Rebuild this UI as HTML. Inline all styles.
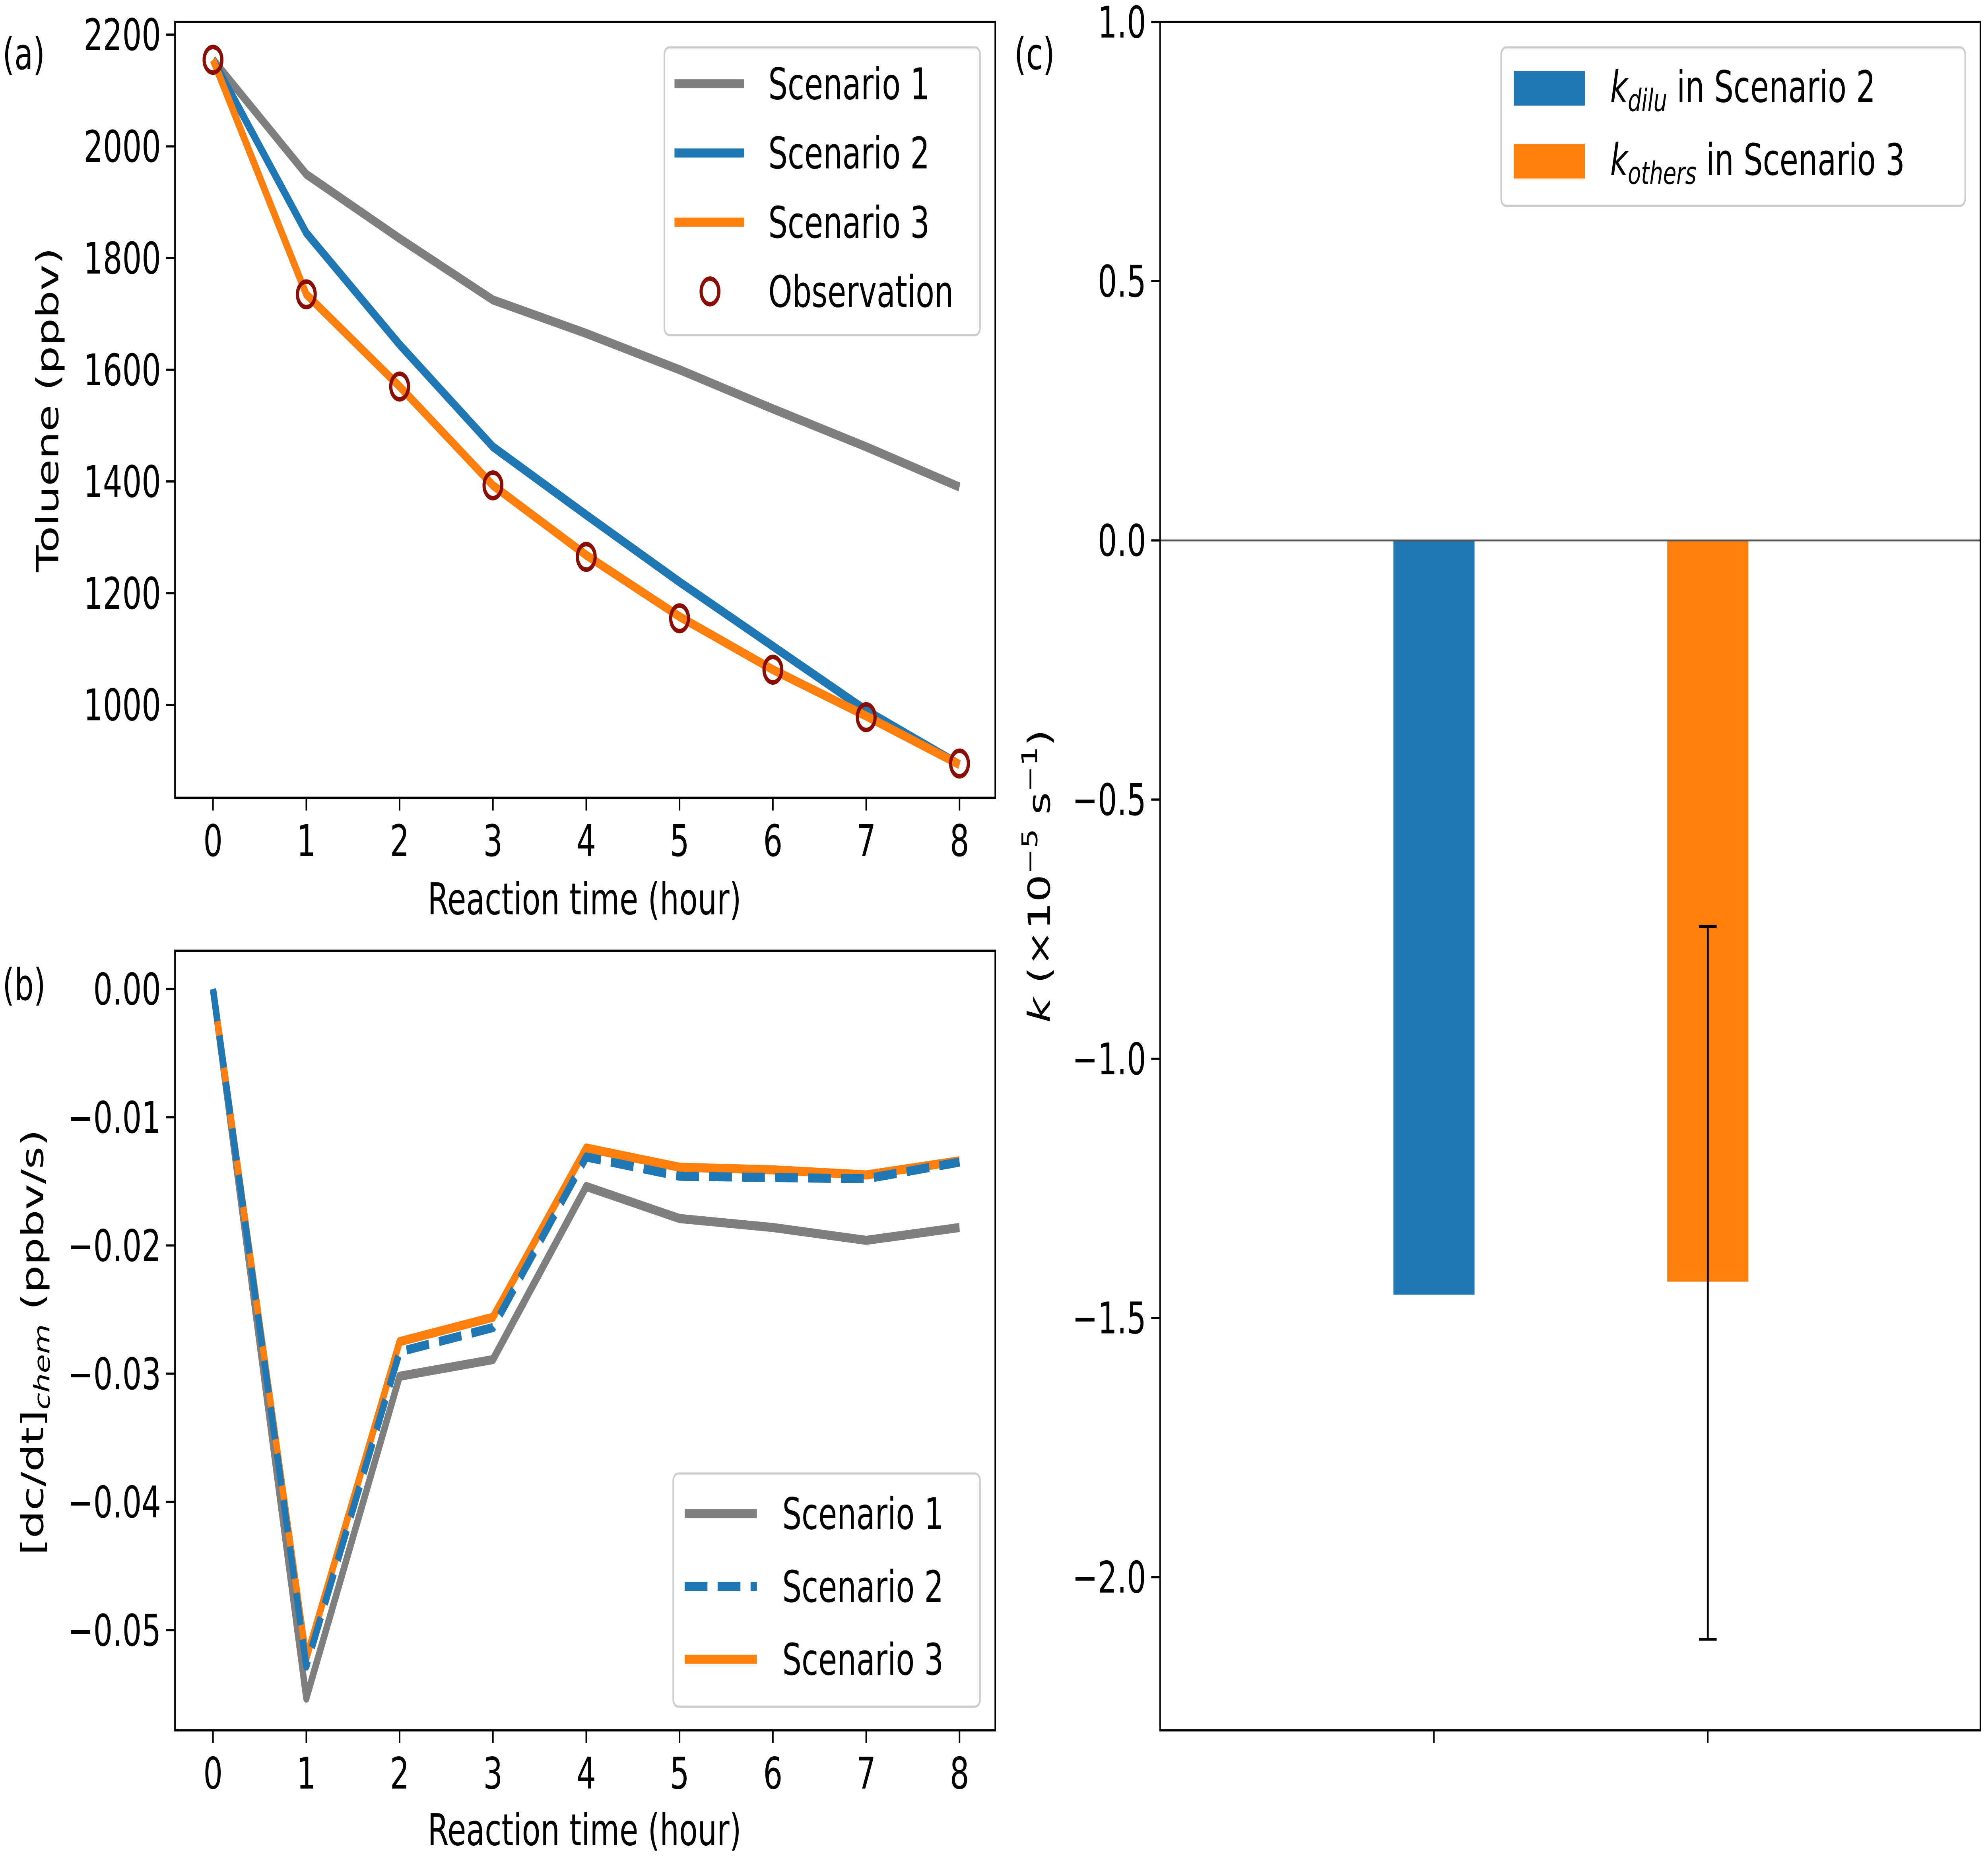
<!DOCTYPE html>
<html><head><meta charset="utf-8"><style>
html,body{margin:0;padding:0;background:#fff;overflow:hidden;width:100%;height:100%;}
svg{display:block;position:absolute;left:0;top:0;width:100vw;height:100vh;}
text{font-family:"DejaVu Sans","Liberation Sans",sans-serif;fill:#000;}
</style></head><body>
<svg id="fig" viewBox="0 0 1568 1021.2" preserveAspectRatio="none" xmlns="http://www.w3.org/2000/svg">
<rect x="0" y="0" width="1568" height="1021.2" fill="#fff"/>
<g id="pa"></g>
<g id="pb"></g>
<g id="pc"></g>
</svg>
<script>
const hours=[0,1,2,3,4,5,6,7,8];
const tolS1=[2155,1950,1835,1725,1665,1600,1530,1462,1390];
const tolS2=[2155,1845,1645,1462,1340,1220,1105,990,893];
const tolS3=[2155,1735,1570,1393,1268,1158,1063,980,893];
const tolObs=[2155,1735,1570,1393,1265,1155,1063,978,895];
const tolTicks=[1000,1200,1400,1600,1800,2000,2200];
const rateS1=[0,-0.0553,-0.0302,-0.0289,-0.0154,-0.0179,-0.0186,-0.0196,-0.0186];
const rateS2=[0,-0.0528,-0.0283,-0.0264,-0.0131,-0.0146,-0.0147,-0.0148,-0.0135];
const rateS3=[0,-0.0522,-0.0275,-0.0256,-0.0124,-0.0139,-0.0141,-0.0145,-0.0134];
const rateTicks=[0,-0.01,-0.02,-0.03,-0.04,-0.05];
const rateTickLabels=["0.00","\u22120.01","\u22120.02","\u22120.03","\u22120.04","\u22120.05"];
const kCats=["kdilu","kothers"];
const kVals=[-1.455,-1.43];
const kErrLow=[null,-2.12];
const kErrHigh=[null,-0.745];
const kTicks=[1.0,0.5,0.0,-0.5,-1.0,-1.5,-2.0];
const kTickLabels=["1.0","0.5","0.0","\u22120.5","\u22121.0","\u22121.5","\u22122.0"];

const NS="http://www.w3.org/2000/svg";
function mk(p,tag,at,txt){const e=document.createElementNS(NS,tag);for(const k in at)e.setAttribute(k,at[k]);if(txt!==undefined)e.textContent=txt;p.appendChild(e);return e;}
const GRAY="#7f7f7f",BLUE="#1f77b4",ORANGE="#ff7f0e",RED="#8b0e04";

const pa=document.getElementById('pa');
const ax=h=>168+h*73.6;
const ay=v=>387-(v-1000)*(61.33/200);
function line(g,xs,ys,fx,fy,col,w,dash,name){
  const p=mk(g,'polyline',{points:xs.map((x,i)=>fx(x)+','+fy(ys[i])).join(' '),fill:'none',stroke:col,'stroke-width':w,'stroke-linejoin':'round','stroke-dasharray':dash||'none'});
  
  
}
line(pa,hours,tolS1,ax,ay,GRAY,5,null,'tol-scenario1-line');
line(pa,hours,tolS2,ax,ay,BLUE,5,null,'tol-scenario2-line');
line(pa,hours,tolS3,ax,ay,ORANGE,5,null,'tol-scenario3-line');
hours.forEach((h,i)=>{const c=mk(pa,'circle',{cx:ax(h),cy:ay(tolObs[i]),r:7,fill:'none',stroke:RED,'stroke-width':2.5});

});
mk(pa,'rect',{x:138,y:12,width:647,height:426,fill:'none',stroke:'#000','stroke-width':1.2});
hours.forEach(h=>{mk(pa,'line',{x1:ax(h),x2:ax(h),y1:438,y2:445,stroke:'#000','stroke-width':1.2});
const t=mk(pa,'text',{x:ax(h),y:470,'font-size':24,'text-anchor':'middle'},String(h));

});
tolTicks.forEach(v=>{mk(pa,'line',{x1:131,x2:138,y1:ay(v),y2:ay(v),stroke:'#000','stroke-width':1.2});
const t=mk(pa,'text',{x:127,y:ay(v)+8.5,'font-size':24,'text-anchor':'end'},String(v));

});
let t=mk(pa,'text',{x:461,y:502,'font-size':24,'text-anchor':'middle'},'Reaction time (hour)');

t=mk(pa,'text',{x:46,y:225,'font-size':24,'text-anchor':'middle',transform:'rotate(-90 46 225)'},'Toluene (ppbv)');

t=mk(pa,'text',{x:2,y:38,'font-size':24},'(a)');

let lg=mk(pa,'g',{});
mk(lg,'rect',{x:524,y:26,width:249,height:158,rx:4,fill:'#fff',stroke:'#ccc','stroke-width':1.2});
[[GRAY,'Scenario 1'],[BLUE,'Scenario 2'],[ORANGE,'Scenario 3']].forEach((d,i)=>{const y=46+i*38;
mk(lg,'line',{x1:532,x2:587,y1:y,y2:y,stroke:d[0],'stroke-width':5});
const e=mk(lg,'text',{x:606,y:y+8.5,'font-size':24},d[1]);});
mk(lg,'circle',{cx:560,cy:160,r:7,fill:'none',stroke:RED,'stroke-width':2.5});
t=mk(lg,'text',{x:606,y:168.5,'font-size':24},'Observation');

const pb=document.getElementById('pb');
const by=v=>543-v*7040;
line(pb,hours,rateS1,ax,by,GRAY,5,null,'rate-scenario1-line');
line(pb,hours,rateS3,ax,by,ORANGE,5,null,'rate-scenario3-line');
line(pb,hours,rateS2,ax,by,BLUE,5,'18,8','rate-scenario2-line');
mk(pb,'rect',{x:138,y:522,width:647,height:428,fill:'none',stroke:'#000','stroke-width':1.2});
hours.forEach(h=>{mk(pb,'line',{x1:ax(h),x2:ax(h),y1:950,y2:957,stroke:'#000','stroke-width':1.2});
const e=mk(pb,'text',{x:ax(h),y:982,'font-size':24,'text-anchor':'middle'},String(h));});
rateTicks.forEach((v,i)=>{mk(pb,'line',{x1:131,x2:138,y1:by(v),y2:by(v),stroke:'#000','stroke-width':1.2});
const e=mk(pb,'text',{x:127,y:by(v)+8.5,'font-size':24,'text-anchor':'end'},rateTickLabels[i]);});
t=mk(pb,'text',{x:461,y:1013,'font-size':24,'text-anchor':'middle'},'Reaction time (hour)');

t=mk(pb,'text',{x:34,y:737,'font-size':24,'text-anchor':'middle',transform:'rotate(-90 34 737)'});
t.innerHTML='[dc/dt]<tspan font-size="17" font-style="italic" dy="5">chem</tspan><tspan dy="-5"> (ppbv/s)</tspan>';

t=mk(pb,'text',{x:2,y:549,'font-size':24},'(b)');

lg=mk(pb,'g',{});
mk(lg,'rect',{x:531,y:809,width:242,height:128,rx:4,fill:'#fff',stroke:'#ccc','stroke-width':1.2});
[[GRAY,'Scenario 1',null],[BLUE,'Scenario 2','18,8'],[ORANGE,'Scenario 3',null]].forEach((d,i)=>{const y=831+i*40;
mk(lg,'line',{x1:540,x2:597,y1:y,y2:y,stroke:d[0],'stroke-width':5,'stroke-dasharray':d[2]||'none'});
const e=mk(lg,'text',{x:617,y:y+8.5,'font-size':24},d[1]);});

const pc=document.getElementById('pc');
const cy=v=>296.7-v*284.6;
const cx=[1131,1347];
const cols=[BLUE,ORANGE];
kVals.forEach((v,i)=>{const r=mk(pc,'rect',{x:cx[i]-32,y:cy(0),width:64,height:cy(v)-cy(0),fill:cols[i]});


if(kErrLow[i]!==null){const g=mk(pc,'g',{stroke:'#000','stroke-width':1.5});


mk(g,'line',{x1:cx[i],x2:cx[i],y1:cy(kErrHigh[i]),y2:cy(kErrLow[i])});
mk(g,'line',{x1:cx[i]-7,x2:cx[i]+7,y1:cy(kErrHigh[i]),y2:cy(kErrHigh[i])});
mk(g,'line',{x1:cx[i]-7,x2:cx[i]+7,y1:cy(kErrLow[i]),y2:cy(kErrLow[i])});}});
mk(pc,'line',{x1:915,x2:1562,y1:cy(0),y2:cy(0),stroke:'#555','stroke-width':1});
mk(pc,'rect',{x:915,y:12,width:647,height:938,fill:'none',stroke:'#000','stroke-width':1.2});
cx.forEach(x=>mk(pc,'line',{x1:x,x2:x,y1:950,y2:957,stroke:'#000','stroke-width':1.2}));
kTicks.forEach((v,i)=>{mk(pc,'line',{x1:908,x2:915,y1:cy(v),y2:cy(v),stroke:'#000','stroke-width':1.2});
const e=mk(pc,'text',{x:904,y:cy(v)+8.5,'font-size':24,'text-anchor':'end'},kTickLabels[i]);});
t=mk(pc,'text',{x:828,y:481,'font-size':24,'text-anchor':'middle',transform:'rotate(-90 828 481)'});
t.innerHTML='<tspan font-style="italic">k</tspan> (\u00d710<tspan font-size="17" dy="-10">\u22125</tspan><tspan dy="10"> s</tspan><tspan font-size="17" dy="-10">\u22121</tspan><tspan dy="10">)</tspan>';

t=mk(pc,'text',{x:800,y:38,'font-size':24},'(c)');

lg=mk(pc,'g',{});
mk(lg,'rect',{x:1184,y:26,width:366,height:87,rx:4,fill:'#fff',stroke:'#ccc','stroke-width':1.2});
mk(lg,'rect',{x:1194,y:39,width:56,height:19,fill:BLUE});
mk(lg,'rect',{x:1194,y:79,width:56,height:19,fill:ORANGE});
t=mk(lg,'text',{x:1270,y:56,'font-size':24});
t.innerHTML='<tspan font-style="italic">k</tspan><tspan font-size="17" font-style="italic" dy="5">dilu</tspan><tspan dy="-5"> in Scenario 2</tspan>';

t=mk(lg,'text',{x:1270,y:96,'font-size':24});
t.innerHTML='<tspan font-style="italic">k</tspan><tspan font-size="17" font-style="italic" dy="5">others</tspan><tspan dy="-5"> in Scenario 3</tspan>';

</script>
</body></html>
